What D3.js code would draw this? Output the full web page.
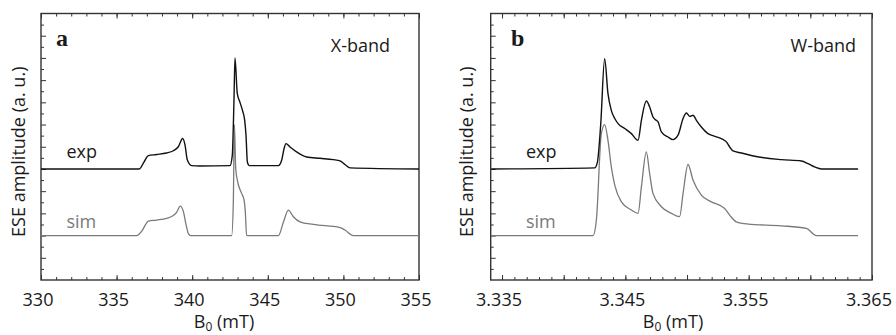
<!DOCTYPE html>
<html><head><meta charset="utf-8">
<script src="https://cdn.jsdelivr.net/npm/d3@7"></script>
<style>
html,body{margin:0;padding:0;background:#fff;}
svg{display:block;}
text{font-family:"Open Sans","Noto Sans",sans-serif;fill:#1a1a1a;}
</style></head>
<body>
<script>
// ---- Data ----
// X-band (mT)
const xExpField = [330, 336.5, 336.8, 337.1, 337.65, 338.3, 338.75, 339.08, 339.37, 339.52, 339.68, 339.96, 340.5, 342.5, 342.65, 342.76, 342.83, 342.98, 343.16, 343.34, 343.47, 343.56, 343.65, 343.78, 345.7, 345.92, 346.07, 346.2, 346.47, 346.9, 347.57, 348.45, 349.33, 349.78, 350.1, 350.44, 355];
const xExpAmp   = [5.0, 5.0, 5.3, 5.6, 5.65, 5.72, 5.82, 6.0, 6.37, 6.1, 5.4, 5.15, 5.13, 5.15, 5.6, 8.0, 10.0, 8.4, 8.0, 7.6, 7.2, 6.5, 5.3, 5.15, 5.15, 5.4, 5.9, 6.14, 5.99, 5.77, 5.54, 5.48, 5.42, 5.36, 5.2, 5.05, 5.0];
const xSimField = [330, 336.33, 336.66, 337.1, 337.65, 338.31, 338.75, 338.97, 339.21, 339.41, 339.59, 339.74, 339.9, 342.61, 342.72, 342.79, 342.88, 343.05, 343.27, 343.43, 343.51, 343.6, 345.7, 346.03, 346.36, 346.69, 347.13, 348.01, 349.78, 350.1, 350.66, 355];
const xSimAmp   = [2.0, 2.0, 2.2, 2.65, 2.7, 2.78, 2.9, 3.05, 3.33, 3.1, 2.5, 2.1, 2.0, 2.0, 3.5, 7.0, 5.0, 4.3, 3.9, 3.6, 3.1, 2.0, 2.0, 2.6, 3.15, 2.85, 2.62, 2.5, 2.36, 2.25, 2.0, 2.0];
// W-band
const wExpField = [3.33413, 3.34251, 3.34273, 3.343, 3.34332, 3.34359, 3.34386, 3.34414, 3.34441, 3.34495, 3.34549, 3.34603, 3.3463, 3.3467, 3.34697, 3.34724, 3.34751, 3.34765, 3.34792, 3.34846, 3.34886, 3.34927, 3.34968, 3.34995, 3.35022, 3.35049, 3.35076, 3.35116, 3.3517, 3.35224, 3.35278, 3.35319, 3.35346, 3.35373, 3.35441, 3.35549, 3.35765, 3.35927, 3.35981, 3.36035, 3.36089, 3.36387];
const wExpAmp   = [5.0, 5.05, 5.3, 7.0, 9.96, 8.39, 7.64, 7.27, 7.04, 6.82, 6.59, 6.29, 7.19, 8.06, 7.79, 7.34, 7.19, 7.12, 6.67, 6.44, 6.32, 6.52, 7.27, 7.52, 7.37, 7.42, 7.19, 6.89, 6.59, 6.47, 6.37, 6.22, 5.99, 5.81, 5.72, 5.57, 5.42, 5.36, 5.24, 5.09, 5.0, 5.0];
const wSimField = [3.33413, 3.34238, 3.34265, 3.34305, 3.34332, 3.34359, 3.34386, 3.34414, 3.34468, 3.34549, 3.34603, 3.3463, 3.3467, 3.34697, 3.34724, 3.34792, 3.34873, 3.3494, 3.34968, 3.35008, 3.35049, 3.35116, 3.35197, 3.35305, 3.35346, 3.354, 3.35495, 3.35765, 3.35968, 3.36049, 3.36387];
const wSimAmp   = [2.0, 2.0, 2.7, 6.59, 7.0, 6.29, 5.09, 4.27, 3.52, 3.15, 3.0, 4.19, 5.77, 4.79, 3.9, 3.3, 3.0, 2.85, 3.9, 5.2, 4.49, 3.82, 3.52, 3.22, 2.92, 2.62, 2.52, 2.44, 2.32, 2.0, 2.0];

const xTickLabels = ["330", "335", "340", "345", "350", "355"];
const wTickLabels = ["3.335", "3.345", "3.355", "3.365"];
const panelLetters = ["a", "b"];
const bandNames = ["X-band", "W-band"];
const yLabel = "ESE amplitude (a. u.)";

// ---- Drawing ----
const W = 896, H = 335;
const svg = d3.select("body").append("svg").attr("width", W).attr("height", H);

const panels = [
  { left: 41, right: 419, dom: [330, 355], majors: xTickLabels.map(Number), majorStep: 5, minorStep: 1,
    labels: xTickLabels, exp: [xExpField, xExpAmp], sim: [xSimField, xSimAmp],
    letter: panelLetters[0], letterX: 56, band: bandNames[0], bandX: 390, ylabX: 25, legX: 66.5, xlabX: 224 },
  { left: 490.7, right: 872, dom: [3.33408, 3.365], majors: wTickLabels.map(Number), majorStep: 0.005, minorStep: 0.001,
    labels: wTickLabels, exp: [wExpField, wExpAmp], sim: [wSimField, wSimAmp],
    letter: panelLetters[1], letterX: 511, band: bandNames[1], bandX: 856, ylabX: 473, legX: 526, xlabX: 673 }
];
const plotTop = 13.5, plotBottom = 280;

panels.forEach(p => {
  const x = d3.scaleLinear().domain(p.dom).range([p.left, p.right]);
  const y = d3.scaleLinear().domain([0, 12]).range([plotBottom, plotTop]);
  const g = svg.append("g");

  const xMaj = d3.range(0, 200).map(i => +(p.dom[1] - i * p.majorStep).toFixed(6)).filter(v => v >= p.dom[0] - 1e-9);
  const xMin = d3.range(0, 200).map(i => +(p.dom[1] - i * p.minorStep).toFixed(6)).filter(v => v >= p.dom[0] - 1e-9);
  const yMaj = d3.range(1, 12);
  const yMin = d3.range(0.5, 12, 1);

  const styleAxis = sel => { sel.select(".domain").remove(); sel.selectAll("line").attr("stroke", "#333").attr("stroke-width", 1); sel.selectAll("text").remove(); };
  g.append("g").attr("transform", `translate(0,${plotBottom})`).call(d3.axisBottom(x).tickValues(xMin).tickSize(-3)).call(styleAxis);
  g.append("g").attr("transform", `translate(0,${plotBottom})`).call(d3.axisBottom(x).tickValues(xMaj).tickSize(-5)).call(styleAxis);
  g.append("g").attr("transform", `translate(0,${plotTop})`).call(d3.axisTop(x).tickValues(xMin).tickSize(-3)).call(styleAxis);
  g.append("g").attr("transform", `translate(0,${plotTop})`).call(d3.axisTop(x).tickValues(xMaj).tickSize(-5)).call(styleAxis);
  g.append("g").attr("transform", `translate(${p.left},0)`).call(d3.axisLeft(y).tickValues(yMin).tickSize(-3)).call(styleAxis);
  g.append("g").attr("transform", `translate(${p.left},0)`).call(d3.axisLeft(y).tickValues(yMaj).tickSize(-5)).call(styleAxis);

  g.selectAll("text.tl").data(p.majors).join("text").attr("class", "tl")
    .attr("x", (d) => x(d) - 3).attr("y", 306).attr("text-anchor", "middle")
    .attr("font-size", 18).text((d, i) => p.labels[i]);

  g.append("rect").attr("x", p.left).attr("y", plotTop).attr("width", p.right - p.left).attr("height", plotBottom - plotTop)
    .attr("fill", "none").attr("stroke", "#333").attr("stroke-width", 1.4);

  const line = d3.line().x(d => x(d[0])).y(d => y(d[1])).curve(d3.curveMonotoneX);
  const simPts = p.sim[0].map((v, i) => [v, p.sim[1][i]]);
  const expPts = p.exp[0].map((v, i) => [v, p.exp[1][i]]);
  g.append("path").attr("d", line(simPts)).attr("fill", "none").attr("stroke", "#7a7a7a").attr("stroke-width", 1.3);
  g.append("path").attr("d", line(expPts)).attr("fill", "none").attr("stroke", "#111").attr("stroke-width", 1.4);

  g.append("text").attr("x", p.letterX).attr("y", 45.5)
    .style("font-family", "'Liberation Serif','Times New Roman',serif").attr("font-weight", "bold").attr("font-size", 24).text(p.letter);
  g.append("text").attr("x", p.bandX).attr("y", 51.5).attr("text-anchor", "end").attr("font-size", 18).text(p.band);
  g.append("text").attr("x", p.legX).attr("y", 158).attr("font-size", 18).text("exp");
  g.append("text").attr("x", p.legX).attr("y", 228).attr("font-size", 18).style("fill", "#7a7a7a").text("sim");
  g.append("text").attr("transform", `translate(${p.ylabX},${(plotTop + plotBottom) / 2 + 5}) rotate(-90)`)
    .attr("text-anchor", "middle").attr("font-size", 18).text(yLabel);
  const xl = g.append("text").attr("x", p.xlabX).attr("y", 328).attr("text-anchor", "middle").attr("font-size", 18);
  xl.append("tspan").text("B");
  xl.append("tspan").attr("font-size", 12).attr("dy", 3).text("0");
  xl.append("tspan").attr("dy", -3).text(" (mT)");
});
</script>
</body></html>
